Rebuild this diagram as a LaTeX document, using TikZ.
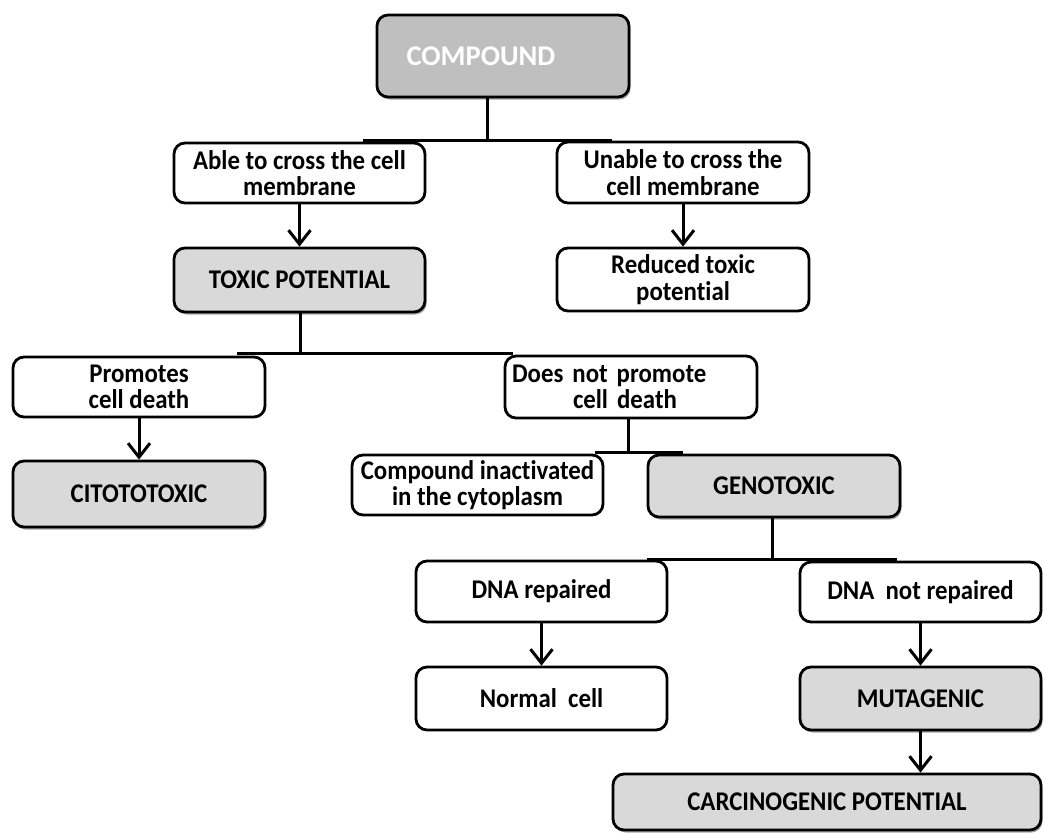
\documentclass[tikz,border=0pt]{standalone}
\usepackage{fontspec}
\setmainfont[Ligatures={NoCommon,NoContextual},FakeStretch=0.92]{Carlito}
\newfontfamily\plainfont[Ligatures={NoCommon,NoContextual}]{Carlito}
\usetikzlibrary{arrows.meta,shadows}
\begin{document}
\begin{tikzpicture}[x=1pt,y=-1pt,
  box/.style={draw=black, line width=2.8pt, rounded corners=11pt, fill=white, inner sep=0pt,
    minimum width=252pt, align=center, font=\fontsize{27}{26.5}\selectfont\bfseries},
  grey/.style={box, fill=black!15, drop shadow={shadow xshift=1.5pt, shadow yshift=-2.5pt, fill=black!70, opacity=0.5}},
  conn/.style={line width=3pt},
  arr/.style={line width=3pt, -{Straight Barb[length=14pt,width=22pt]}}
]
\useasboundingbox (0,0) rectangle (1045,833);

\node[grey, fill=black!25, text=white, minimum height=82pt, font=\plainfont\fontsize{28.5}{28.5}\selectfont\bfseries] (compound) at (503,56) {COMPOUND\hspace*{44pt}};
\node[box, minimum width=251pt, minimum height=60pt] (able) at (299.5,173) {Able to cross the cell\\membrane};
\node[box, minimum height=61pt] (unable) at (683,172.5) {Unable to cross the\\cell membrane};
\node[grey, minimum width=251pt, minimum height=64pt] (toxic) at (299.5,280) {TOXIC POTENTIAL};
\node[box, minimum height=63pt] (reduced) at (683,279.5) {Reduced toxic\\potential};
\node[box, minimum height=60pt] (promotes) at (139,387) {Promotes\\cell death};
\node[box, minimum height=62pt, text width=238pt, inner xsep=7pt, align=left] (doesnot) at (631,387) {Does not promote\\\hspace*{61pt}cell death};
\node[grey, minimum height=66pt] (cito) at (139,494) {CITOTOTOXIC};
\node[box, minimum width=251pt, minimum height=60pt] (inact) at (477.5,485) {Compound inactivated\\in the cytoplasm};
\node[grey, minimum height=62pt] (geno) at (774,486) {GENOTOXIC};
\node[box, minimum width=251pt, minimum height=61pt] (dnarep) at (541.5,591.5) {DNA repaired};
\node[box, minimum width=241pt, minimum height=60pt] (dnanot) at (920.5,592) {DNA~~not repaired};
\node[box, minimum width=251pt, minimum height=63pt] (normal) at (541.5,698.5) {Normal~~cell};
\node[grey, minimum width=241pt, minimum height=63pt] (muta) at (920.5,698.5) {MUTAGENIC};
\node[grey, minimum width=428pt, minimum height=56pt] (carc) at (827,802) {CARCINOGENIC POTENTIAL};

\coordinate (c1) at (487,140);
\coordinate (b1l) at (363,140);
\coordinate (b1r) at (612,140);
\coordinate (c2) at (300,353);
\coordinate (b2l) at (237,353);
\coordinate (b2r) at (513,353);
\coordinate (c3) at (628,452);
\coordinate (b3l) at (595,452);
\coordinate (b3r) at (683,452);
\coordinate (c4) at (772,559);
\coordinate (b4l) at (647,559);
\coordinate (b4r) at (897,559);

\draw[conn] (c1 |- compound.south) -- (c1);
\draw[conn] (b1l) -- (b1r);
\draw[arr] (able.south) -- (toxic.north);
\draw[arr] (unable.south) -- (reduced.north);

\draw[conn] (c2 |- toxic.south) -- (c2);
\draw[conn] (b2l) -- (b2r);
\draw[arr] (promotes.south) -- (cito.north);

\draw[conn] (c3 |- doesnot.south) -- (c3);
\draw[conn] (b3l) -- (b3r);

\draw[conn] (c4 |- geno.south) -- (c4);
\draw[conn] (b4l) -- (b4r);
\draw[arr] (dnarep.south) -- (normal.north);
\draw[arr] (dnanot.south) -- (muta.north);
\draw[arr] (muta.south) -- (muta.south |- carc.north);
\end{tikzpicture}
\end{document}
